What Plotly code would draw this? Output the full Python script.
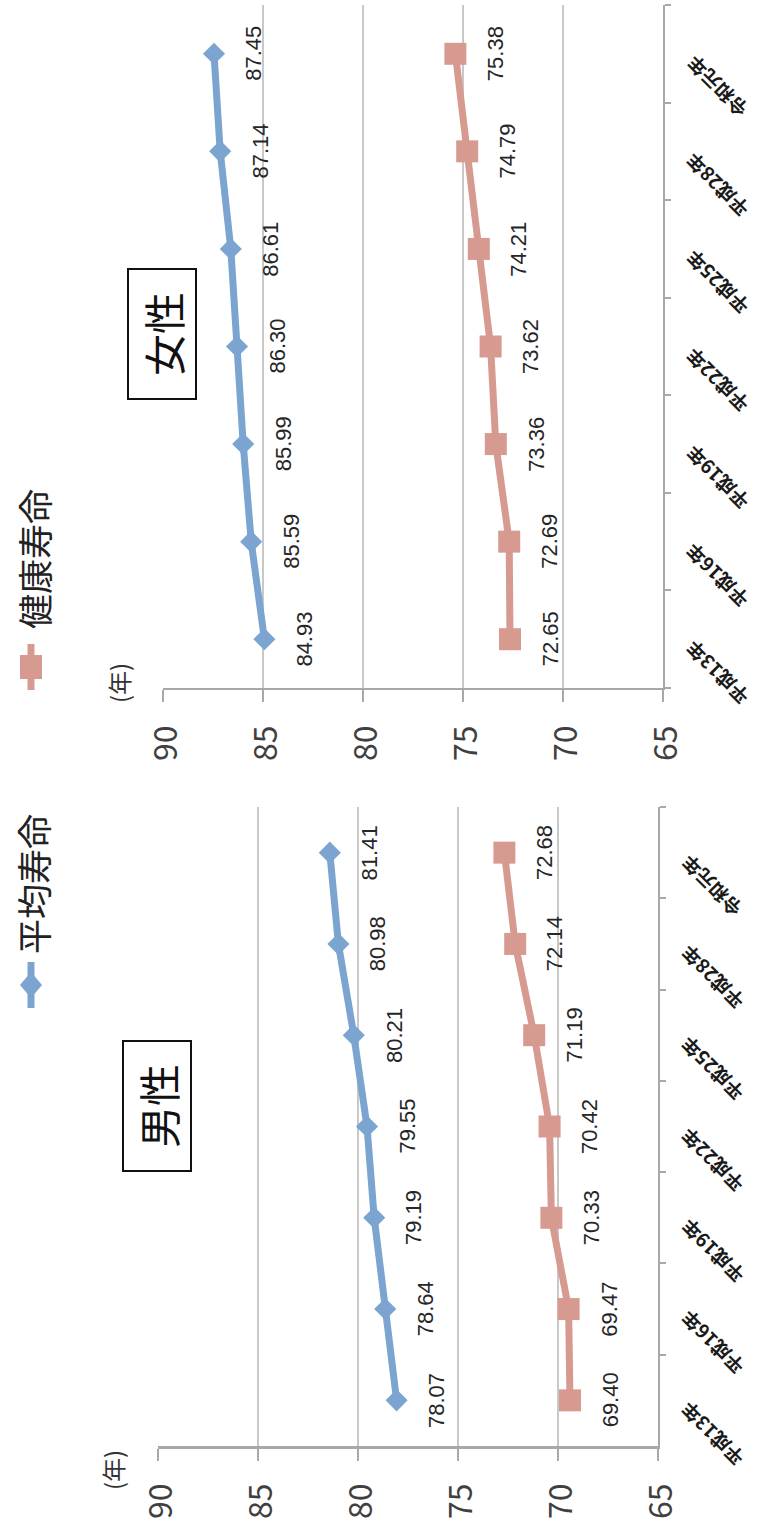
import plotly.graph_objects as go

# Canvas size in pixels
W, H = 765, 1539

# ---- data -------------------------------------------------------------
categories = ["平成13年", "平成16年", "平成19年", "平成22年", "平成25年", "平成28年", "令和元年"]
male_life = [78.07, 78.64, 79.19, 79.55, 80.21, 80.98, 81.41]
male_healthy = [69.40, 69.47, 70.33, 70.42, 71.19, 72.14, 72.68]
female_life = [84.93, 85.59, 85.99, 86.30, 86.61, 87.14, 87.45]
female_healthy = [72.65, 72.69, 73.36, 73.62, 74.21, 74.79, 75.38]
value_ticks = [90, 85, 80, 75, 70, 65]
series_names = ["平均寿命", "健康寿命"]
panel_titles = ["男性", "女性"]
unit_label = "(年)"

# ---- styling ----------------------------------------------------------
BLUE = "#7BA4D0"
SALMON = "#D69A90"
AXIS = "#A8A8A8"
GRID = "#C8C8C8"
CJK = "Noto Sans CJK JP"
NUM = "Liberation Sans"


def px_x(p):
    return p / W


def px_y(p):
    return 1 - p / H


# Page is laid out turned a quarter turn counter-clockwise:
# values run right-to-left along x, categories run bottom-to-top along y.
panels = [
    dict(suffix="", title=panel_titles[0], life=male_life, healthy=male_healthy,
         xdom=(158, 658), ydom=(807, 1446), tick_y=1501, unit=(112, 1470),
         title_pos=(157, 1106), axis_w=3),
    dict(suffix="2", title=panel_titles[1], life=female_life, healthy=female_healthy,
         xdom=(163, 663), ydom=(5, 688), tick_y=743, unit=(118, 683),
         title_pos=(162, 334), axis_w=2),
]

fig = go.Figure()
annotations = []
shapes = []
layout_axes = {}

for p in panels:
    s = p["suffix"]
    xa, ya = "x" + s, "y" + s
    # series: 平均寿命 (diamonds), 健康寿命 (squares)
    fig.add_trace(go.Scatter(
        x=p["life"], y=categories, xaxis=xa, yaxis=ya, mode="lines+markers",
        name=series_names[0], line=dict(color=BLUE, width=7),
        marker=dict(symbol="diamond", size=17, color=BLUE)))
    fig.add_trace(go.Scatter(
        x=p["healthy"], y=categories, xaxis=xa, yaxis=ya, mode="lines+markers",
        name=series_names[1], line=dict(color=SALMON, width=7),
        marker=dict(symbol="square", size=22, color=SALMON)))

    layout_axes["xaxis" + s] = dict(
        domain=[px_x(p["xdom"][0]), px_x(p["xdom"][1])], range=[90, 65],
        tickmode="array", tickvals=value_ticks, showticklabels=False,
        showgrid=True, gridcolor=GRID, gridwidth=1.5,
        ticks="outside", ticklen=12, tickwidth=2, tickcolor=AXIS,
        showline=True, linecolor=AXIS, linewidth=p["axis_w"],
        zeroline=False, anchor=ya, fixedrange=True)
    layout_axes["yaxis" + s] = dict(
        domain=[px_y(p["ydom"][1]), px_y(p["ydom"][0])],
        type="category", categoryorder="array", categoryarray=categories,
        range=[-0.5, len(categories) - 0.5], side="right", anchor=xa,
        showline=True, linecolor=AXIS, linewidth=2,
        ticks="outside", ticklen=6, tickwidth=1.5, tickcolor=AXIS,
        tickson="boundaries", showgrid=False, showticklabels=False,
        zeroline=False, fixedrange=True)

    # value labels beside each point
    for vals in (p["life"], p["healthy"]):
        for c, v in zip(categories, vals):
            annotations.append(dict(
                x=v, y=c, xref=xa, yref=ya, text=f"{v:.2f}", showarrow=False,
                xanchor="center", yanchor="middle", xshift=40, textangle=-90,
                font=dict(family=NUM, size=22, color="#262626")))

    # category labels along the right-hand axis
    for c in categories:
        annotations.append(dict(
            x=65, y=c, xref=xa, yref=ya, text=c, showarrow=False,
            xanchor="left", yanchor="top", xshift=14, yshift=6, textangle=-135,
            font=dict(family=CJK, size=19, color="#1A1A1A", weight="bold")))

    # value tick labels below the panel
    for v in value_ticks:
        annotations.append(dict(
            x=v, y=px_y(p["tick_y"]), xref=xa, yref="paper", text=str(v),
            xanchor="center", yanchor="middle", showarrow=False, textangle=-90,
            font=dict(family=CJK, size=32, color="#404040")))

    # unit label
    annotations.append(dict(
        x=px_x(p["unit"][0]), y=px_y(p["unit"][1]), xref="paper", yref="paper",
        xanchor="center", yanchor="middle",
        text=unit_label, showarrow=False, textangle=-90,
        font=dict(family=CJK, size=24, color="#333333")))

    # boxed panel title
    annotations.append(dict(
        x=px_x(p["title_pos"][0]), y=px_y(p["title_pos"][1]),
        xref="paper", yref="paper", xanchor="center", yanchor="middle",
        text=p["title"], showarrow=False,
        textangle=-90, width=116, height=54, borderpad=6,
        bordercolor="#111111", borderwidth=2, bgcolor="white",
        font=dict(family=CJK, size=42, color="#111111")))

# ---- legend (drawn by hand so it can be turned with the page) ---------
legend_items = [
    dict(name=series_names[0], color=BLUE, text_c=(32, 884), mark_c=(31, 985), kind="diamond"),
    dict(name=series_names[1], color=SALMON, text_c=(33, 559), mark_c=(31, 667), kind="square"),
]
for it in legend_items:
    annotations.append(dict(
        x=px_x(it["text_c"][0]), y=px_y(it["text_c"][1]), xref="paper", yref="paper",
        xanchor="center", yanchor="middle",
        text=it["name"], showarrow=False, textangle=-90,
        font=dict(family=CJK, size=35, color="#222222")))
    cx, cy = it["mark_c"]
    shapes.append(dict(type="line", xref="paper", yref="paper",
                       x0=px_x(cx), x1=px_x(cx), y0=px_y(cy - 23), y1=px_y(cy + 23),
                       line=dict(color=it["color"], width=7)))
    if it["kind"] == "square":
        shapes.append(dict(type="rect", xref="paper", yref="paper",
                           x0=px_x(cx - 11), x1=px_x(cx + 11),
                           y0=px_y(cy - 12), y1=px_y(cy + 12),
                           fillcolor=it["color"], line=dict(width=0)))
    else:
        path = (f"M {px_x(cx)},{px_y(cy - 13)} L {px_x(cx + 11)},{px_y(cy)} "
                f"L {px_x(cx)},{px_y(cy + 13)} L {px_x(cx - 11)},{px_y(cy)} Z")
        shapes.append(dict(type="path", xref="paper", yref="paper", path=path,
                           fillcolor=it["color"], line=dict(width=0)))

fig.update_layout(
    width=W, height=H, margin=dict(l=0, r=0, t=0, b=0),
    paper_bgcolor="white", plot_bgcolor="white", showlegend=False,
    annotations=annotations, shapes=shapes, **layout_axes)

fig.write_html("out.html")
